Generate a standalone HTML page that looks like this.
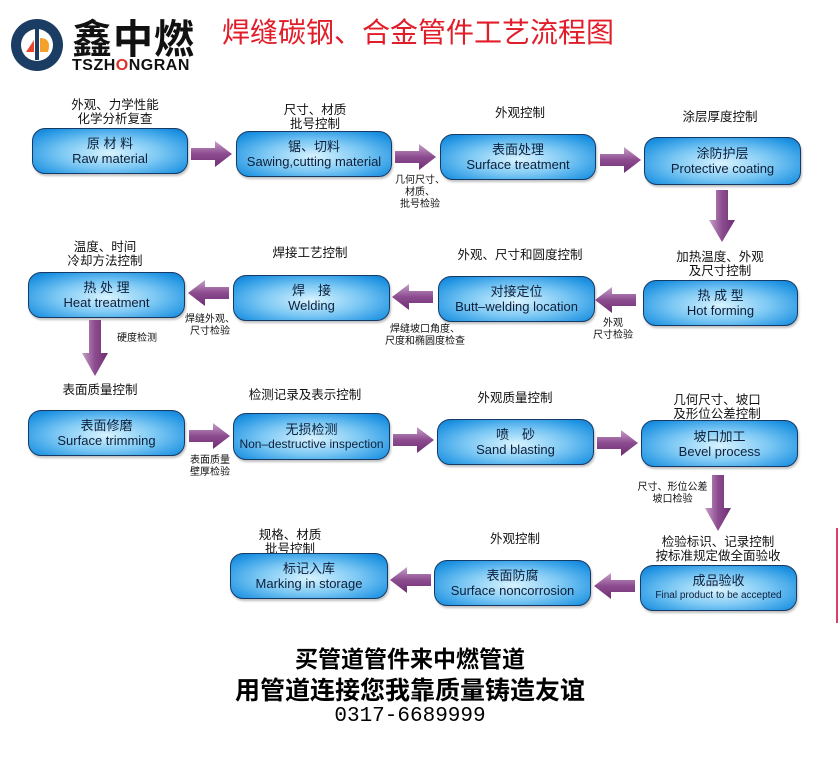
<!DOCTYPE html>
<html><head><meta charset="utf-8"><style>
body{margin:0;width:838px;height:767px;background:#fff;position:relative;overflow:hidden;font-family:"Liberation Sans","Noto Sans CJK SC",sans-serif;}
.box{position:absolute;border:1.5px solid #163a66;border-radius:13px;box-sizing:border-box;
background:radial-gradient(ellipse at 50% 55%,#d8f3ff 0%,#7cc8f4 45%,#1f93e2 85%,#1379c8 100%);
color:#0d1f3a;text-align:center;font-size:13px;line-height:15px;display:flex;flex-direction:column;justify-content:center;box-shadow:1px 2px 2px rgba(0,0,0,.25);}
.l{position:absolute;font-size:12.5px;color:#111;text-align:center;line-height:14px;white-space:nowrap;}
.s{position:absolute;font-size:10px;color:#111;line-height:12px;text-align:center;white-space:nowrap;}
svg.a{position:absolute;overflow:visible;}
.b{position:absolute;left:0;width:820px;text-align:center;font-weight:bold;color:#000;font-size:21px;}
</style></head><body>
<svg width="0" height="0" style="position:absolute"><defs>
<linearGradient id="g" x1="0" y1="0" x2="0" y2="1"><stop offset="0" stop-color="#c7a0c8"/><stop offset=".5" stop-color="#8c4b8f"/><stop offset="1" stop-color="#6e2f72"/></linearGradient>
<linearGradient id="gv" x1="0" y1="0" x2="1" y2="0"><stop offset="0" stop-color="#c7a0c8"/><stop offset=".5" stop-color="#8c4b8f"/><stop offset="1" stop-color="#6e2f72"/></linearGradient>
</defs></svg>
<!-- logo -->
<svg style="position:absolute;left:8px;top:16px" width="60" height="60"><circle cx="29" cy="29" r="26" fill="#1c3d63"/><circle cx="29" cy="29" r="16" fill="#fff"/><rect x="27" y="12" width="4" height="32" fill="#1c3d63"/><path d="M18 36 L26 24 L26 36 Z" fill="#e8452c"/><path d="M32 22 Q44 22 40 36 L32 36 Z" fill="#f3a12a"/></svg>
<div style="position:absolute;left:72px;top:14px;font-size:40px;font-weight:bold;color:#111;letter-spacing:1px;font-family:'Noto Sans CJK SC',sans-serif;line-height:44px">鑫中燃</div>
<div style="position:absolute;left:72px;top:57px;font-size:16px;font-weight:bold;color:#111;letter-spacing:.5px">TSZH<span style="color:#e0302a">O</span>NGRAN</div>
<div style="position:absolute;left:222px;top:13px;font-size:28px;color:#e21d2a;font-family:'Noto Sans CJK SC',sans-serif;line-height:36px">焊缝碳钢、合金管件工艺流程图</div>

<!-- row 1 -->
<div class="l" style="left:40px;top:98px;width:150px">外观、力学性能<br>化学分析复查</div>
<div class="l" style="left:240px;top:103px;width:150px">尺寸、材质<br>批号控制</div>
<div class="l" style="left:445px;top:106px;width:150px">外观控制</div>
<div class="l" style="left:645px;top:110px;width:150px">涂层厚度控制</div>
<div class="box" style="left:32px;top:128px;width:156px;height:46px">原 材 料<br>Raw material</div>
<div class="box" style="left:236px;top:131px;width:156px;height:46px">锯、切料<br>Sawing,cutting material</div>
<div class="box" style="left:440px;top:134px;width:156px;height:46px">表面处理<br>Surface treatment</div>
<div class="box" style="left:644px;top:137px;width:157px;height:48px">涂防护层<br>Protective coating</div>
<div class="s" style="left:390px;top:175px;width:60px">几何尺寸、<br>材质、<br>批号检验</div>

<!-- row 2 -->
<div class="l" style="left:30px;top:240px;width:150px">温度、时间<br>冷却方法控制</div>
<div class="l" style="left:235px;top:246px;width:150px">焊接工艺控制</div>
<div class="l" style="left:445px;top:248px;width:150px">外观、尺寸和圆度控制</div>
<div class="l" style="left:645px;top:250px;width:150px">加热温度、外观<br>及尺寸控制</div>
<div class="box" style="left:28px;top:272px;width:157px;height:46px">热 处 理<br>Heat treatment</div>
<div class="box" style="left:233px;top:275px;width:157px;height:46px">焊　接<br>Welding</div>
<div class="box" style="left:438px;top:276px;width:157px;height:46px">对接定位<br>Butt–welding location</div>
<div class="box" style="left:643px;top:280px;width:155px;height:46px">热 成 型<br>Hot forming</div>
<div class="s" style="left:180px;top:314px;width:60px">焊缝外观、<br>尺寸检验</div>
<div class="s" style="left:370px;top:324px;width:110px">焊缝坡口角度、<br>尺度和椭圆度检查</div>
<div class="s" style="left:588px;top:318px;width:50px">外观<br>尺寸检验</div>
<div class="s" style="left:112px;top:333px;width:50px">硬度检测</div>

<!-- row 3 -->
<div class="l" style="left:25px;top:383px;width:150px">表面质量控制</div>
<div class="l" style="left:230px;top:388px;width:150px">检测记录及表示控制</div>
<div class="l" style="left:440px;top:391px;width:150px">外观质量控制</div>
<div class="l" style="left:642px;top:393px;width:150px">几何尺寸、坡口<br>及形位公差控制</div>
<div class="box" style="left:28px;top:410px;width:157px;height:46px">表面修磨<br>Surface trimming</div>
<div class="box" style="left:233px;top:413px;width:157px;height:47px"><span>无损检测</span><span style="font-size:12px;white-space:nowrap">Non–destructive inspection</span></div>
<div class="box" style="left:437px;top:419px;width:157px;height:46px">喷　砂<br>Sand blasting</div>
<div class="box" style="left:641px;top:420px;width:157px;height:47px">坡口加工<br>Bevel process</div>
<div class="s" style="left:184px;top:455px;width:52px">表面质量<br>壁厚检验</div>
<div class="s" style="left:625px;top:482px;width:95px">尺寸、形位公差<br>坡口检验</div>

<!-- row 4 -->
<div class="l" style="left:235px;top:528px;width:110px">规格、材质<br>批号控制</div>
<div class="l" style="left:440px;top:532px;width:150px">外观控制</div>
<div class="l" style="left:638px;top:535px;width:160px">检验标识、记录控制<br>按标准规定做全面验收</div>
<div class="box" style="left:230px;top:553px;width:158px;height:46px">标记入库<br>Marking in storage</div>
<div class="box" style="left:434px;top:560px;width:157px;height:46px">表面防腐<br>Surface noncorrosion</div>
<div class="box" style="left:640px;top:565px;width:157px;height:46px"><span>成品验收</span><span style="font-size:10px">Final product to be accepted</span></div>

<!-- arrows right -->
<svg class="a" style="left:191px;top:141px" width="42" height="26"><path d="M0 7H24V0L41 13L24 26V19H0Z" fill="url(#g)"/></svg>
<svg class="a" style="left:395px;top:144px" width="42" height="26"><path d="M0 7H24V0L41 13L24 26V19H0Z" fill="url(#g)"/></svg>
<svg class="a" style="left:600px;top:147px" width="42" height="26"><path d="M0 7H24V0L41 13L24 26V19H0Z" fill="url(#g)"/></svg>
<svg class="a" style="left:189px;top:423px" width="42" height="26"><path d="M0 7H24V0L41 13L24 26V19H0Z" fill="url(#g)"/></svg>
<svg class="a" style="left:393px;top:427px" width="42" height="26"><path d="M0 7H24V0L41 13L24 26V19H0Z" fill="url(#g)"/></svg>
<svg class="a" style="left:597px;top:430px" width="42" height="26"><path d="M0 7H24V0L41 13L24 26V19H0Z" fill="url(#g)"/></svg>
<!-- arrows left -->
<svg class="a" style="left:595px;top:287px" width="42" height="26"><path d="M41 7H17V0L0 13L17 26V19H41Z" fill="url(#g)"/></svg>
<svg class="a" style="left:392px;top:284px" width="42" height="26"><path d="M41 7H17V0L0 13L17 26V19H41Z" fill="url(#g)"/></svg>
<svg class="a" style="left:188px;top:280px" width="42" height="26"><path d="M41 7H17V0L0 13L17 26V19H41Z" fill="url(#g)"/></svg>
<svg class="a" style="left:594px;top:573px" width="42" height="26"><path d="M41 7H17V0L0 13L17 26V19H41Z" fill="url(#g)"/></svg>
<svg class="a" style="left:390px;top:567px" width="42" height="26"><path d="M41 7H17V0L0 13L17 26V19H41Z" fill="url(#g)"/></svg>
<!-- arrows down -->
<svg class="a" style="left:709px;top:190px" width="26" height="52"><path d="M7 0H19V30H26L13 52L0 30H7Z" fill="url(#gv)"/></svg>
<svg class="a" style="left:82px;top:320px" width="26" height="56"><path d="M7 0H19V33H26L13 56L0 33H7Z" fill="url(#gv)"/></svg>
<svg class="a" style="left:705px;top:475px" width="26" height="56"><path d="M7 0H19V33H26L13 56L0 33H7Z" fill="url(#gv)"/></svg>
<div style="position:absolute;left:836px;top:528px;width:2px;height:95px;background:#d8406a"></div>

<div class="b" style="top:640px;font-size:23px">买管道管件来中燃管道</div>
<div class="b" style="top:671px;font-size:25px">用管道连接您我靠质量铸造友谊</div>
<div class="b" style="top:705px;font-weight:normal;font-family:'Liberation Mono',monospace;font-size:21px">0317-6689999</div>
</body></html>
